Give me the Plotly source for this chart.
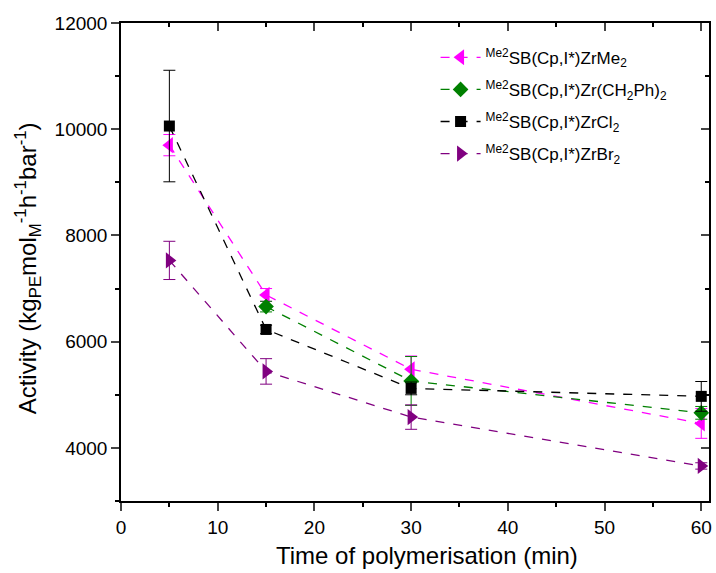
import plotly.graph_objects as go

time_min = [5, 15, 30, 60]

names = [
    "<sup>Me2</sup>SB(Cp,I*)ZrMe<sub>2</sub>",
    "<sup>Me2</sup>SB(Cp,I*)Zr(CH<sub>2</sub>Ph)<sub>2</sub>",
    "<sup>Me2</sup>SB(Cp,I*)ZrCl<sub>2</sub>",
    "<sup>Me2</sup>SB(Cp,I*)ZrBr<sub>2</sub>",
]

act_me = [9700, 6880, 5480, 4460]
err_me = [200, 120, 250, 280]
act_bn = [None, 6660, 5260, 4660]
err_bn = [0, 100, 460, 120]
act_cl = [10060, 6230, 5120, 4970]
err_cl = [1050, 80, 120, 280]
act_br = [7530, 5440, 4580, 3660]
err_br = [360, 240, 230, 60]

x_title = "Time of polymerisation (min)"
y_title = "Activity (kg<sub>PE</sub>mol<sub>M</sub><sup>-1</sup>h<sup>-1</sup>bar<sup>-1</sup>)"

colors = ["#ff00ff", "#008000", "#000000", "#800080"]
symbols = ["triangle-left", "diamond", "square", "triangle-right"]
sizes = [14, 12, 11, 14]
series = [(act_me, err_me), (act_bn, err_bn), (act_cl, err_cl), (act_br, err_br)]

fig = go.Figure()
for i, (name, (ys, es), c, s, sz) in enumerate(zip(names, series, colors, symbols, sizes)):
    xs = [x for x, y in zip(time_min, ys) if y is not None]
    yv = [y for y in ys if y is not None]
    ev = [e for y, e in zip(ys, es) if y is not None]
    fig.add_trace(go.Scatter(
        x=xs, y=yv, name=name, mode="lines+markers", legendgroup=f"g{i}",
        line=dict(color=c, width=1.3, dash="dash"),
        marker=dict(symbol=s, size=sz, color=c),
        error_y=dict(type="data", array=ev, visible=True, color=c, thickness=1, width=6),
    ))

font = "Liberation Sans, Arial, sans-serif"
fig.update_layout(
    width=716, height=573,
    margin=dict(l=121, r=4, t=23, b=72),
    plot_bgcolor="white", paper_bgcolor="white",
    font=dict(family=font, color="black"),
    showlegend=True,
    legend=dict(x=0.535, y=0.965, xanchor="left", yanchor="top",
                font=dict(size=17, family=font), bgcolor="rgba(0,0,0,0)",
                tracegroupgap=7, itemwidth=40),
    xaxis=dict(range=[0, 60.8], dtick=10, tick0=0, ticks="outside", ticklen=8, tickwidth=1.5,
               showline=True, linecolor="black", linewidth=1.5, showgrid=False, zeroline=False,
               tickfont=dict(size=19), tickformat="d",
               minor=dict(ticks="outside", ticklen=4, dtick=5, tickwidth=1.5, tickcolor="black")),
    yaxis=dict(range=[3000, 12000], dtick=2000, tick0=4000, ticks="outside", ticklen=8, tickwidth=1.5,
               showline=True, linecolor="black", linewidth=1.5, showgrid=False, zeroline=False,
               tickfont=dict(size=19), tickformat="d",
               minor=dict(ticks="outside", ticklen=4, dtick=1000, tickwidth=1.5, tickcolor="black")),
    xaxis2=dict(overlaying="x", side="top", matches="x", range=[0, 60.8], dtick=10, tick0=0,
                ticks="inside", ticklen=8, tickwidth=1.5, showticklabels=False, showline=True,
                linecolor="black", linewidth=1.5, showgrid=False, zeroline=False,
                minor=dict(ticks="inside", ticklen=4, dtick=5, tickwidth=1.5, tickcolor="black")),
    yaxis2=dict(overlaying="y", side="right", range=[3000, 12000], dtick=2000, tick0=4000,
                ticks="inside", ticklen=8, tickwidth=1.5, showticklabels=False, showline=True,
                linecolor="black", linewidth=1.5, showgrid=False, zeroline=False,
                minor=dict(ticks="inside", ticklen=4, dtick=1000, tickwidth=1.5, tickcolor="black")),
    annotations=[
        dict(text=x_title, xref="paper", yref="paper", x=0.52, y=-0.113, xanchor="center", yanchor="middle",
             showarrow=False, font=dict(size=24, family=font)),
        dict(text=y_title, xref="paper", yref="paper", x=-0.158, y=0.487, xanchor="center", yanchor="middle",
             textangle=-90, showarrow=False, font=dict(size=24, family=font)),
    ],
)
fig.add_trace(go.Scatter(x=[None], y=[None], xaxis="x2", yaxis="y2", showlegend=False, hoverinfo="skip"))

fig.write_html("out.html")
